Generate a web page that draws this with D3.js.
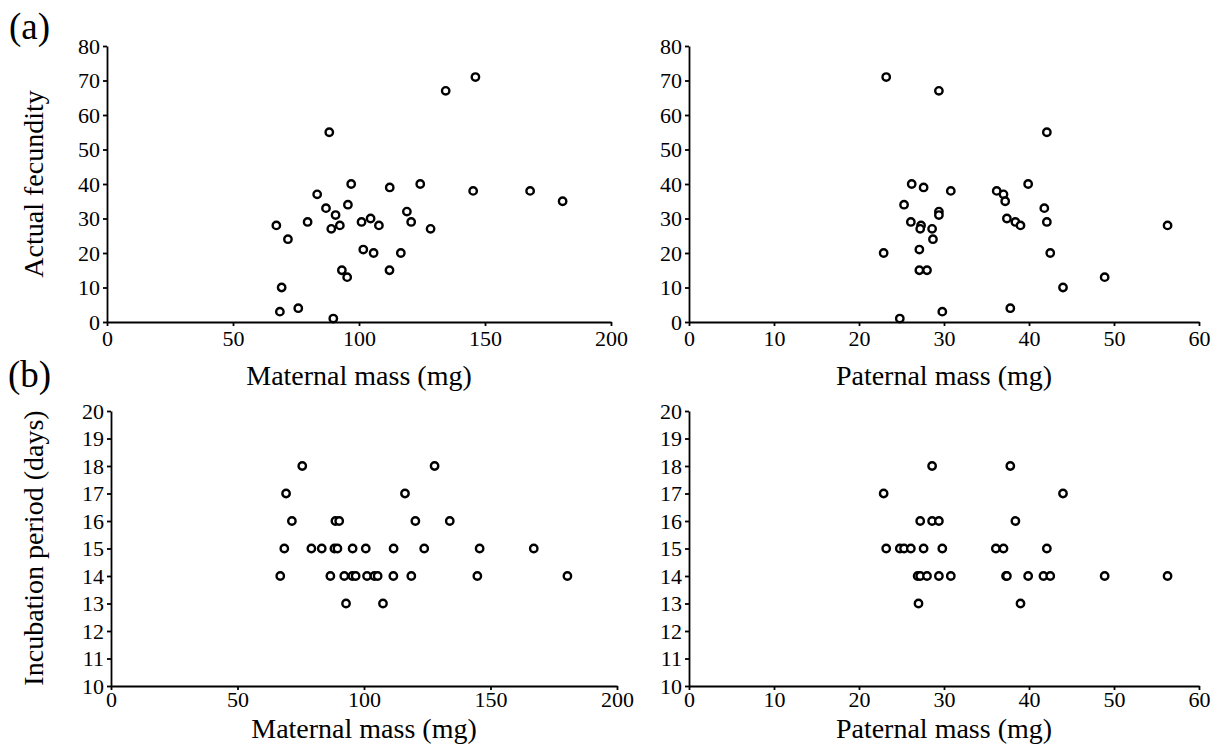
<!DOCTYPE html>
<html>
<head>
<meta charset="utf-8">
<script src="https://cdn.jsdelivr.net/npm/d3@7"></script>
<style>
  body { margin: 0; background: #fff; }
  svg { display: block; font-family: "Liberation Serif", "Times New Roman", serif; }
  .axis path, .axis line { stroke: #000; stroke-width: 1.8; }
  .title { font-size: 28px; fill: #000; }
  .letter { font-size: 37px; fill: #000; }
</style>
</head>
<body>
<main></main>
<script>
// data
// (a) left: maternal mass vs actual fecundity
const maternalMassA = [146.2, 134.4, 88.2, 96.9, 112.2, 124.3, 145.3, 167.9, 180.8, 83.4, 86.9, 95.6, 90.7, 119.0, 67.2, 79.6, 89.0,
  92.4, 101.0, 104.6, 107.9, 120.7, 128.4, 71.8, 101.7, 105.8, 116.6, 93.2, 95.3, 112.1, 69.3, 68.6, 75.9, 89.8];
const fecundityM = [71, 67, 55, 40, 39, 40, 38, 38, 35, 37, 33, 34, 31, 32, 28, 29, 27,
  28, 29, 30, 28, 29, 27, 24, 21, 20, 20, 15, 13, 15, 10, 3, 4, 1];

// (a) right: paternal mass vs actual fecundity
const paternalMassA = [23.2, 29.4, 42.1, 26.2, 27.6, 30.8, 39.9, 36.2, 37.0, 37.2, 25.3, 41.8, 29.4, 29.4, 37.4, 38.4, 39.0,
  42.1, 26.1, 27.3, 27.2, 28.6, 28.7, 56.3, 22.9, 27.1, 42.5, 27.1, 28.0, 48.9, 44.0, 29.8, 37.8, 24.8];
const fecundityP = [71, 67, 55, 40, 39, 38, 40, 38, 37, 35, 34, 33, 32, 31, 30, 29, 28,
  29, 29, 28, 27, 27, 24, 28, 20, 21, 20, 15, 15, 13, 10, 3, 4, 1];

// (b) left: maternal mass vs incubation period
const maternalMassB = [75.6, 127.9, 69.2, 116.2, 71.5, 88.7, 90.2, 120.3, 133.9, 68.5, 79.2, 83.3, 88.3, 89.5, 95.5, 100.7, 111.7,
  123.8, 145.7, 167.1, 66.9, 86.7, 92.2, 95.4, 96.7, 101.2, 104.1, 105.4, 111.6, 118.7, 144.8, 180.4, 92.9, 107.5];
const incubationM = [18, 18, 17, 17, 16, 16, 16, 16, 16, 15, 15, 15, 15, 15, 15, 15, 15,
  15, 15, 15, 14, 14, 14, 14, 14, 14, 14, 14, 14, 14, 14, 14, 13, 13];

// (b) right: paternal mass vs incubation period
const paternalMassB = [28.6, 37.8, 22.9, 44.0, 27.2, 28.6, 29.4, 38.4, 23.2, 24.8, 25.3, 26.1, 27.6, 29.8, 36.1, 37.0, 42.1,
  26.9, 27.2, 28.0, 29.4, 30.8, 37.3, 37.4, 39.9, 41.7, 42.5, 48.9, 56.3, 27.0, 39.0];
const incubationP = [18, 18, 17, 17, 16, 16, 16, 16, 15, 15, 15, 15, 15, 15, 15, 15, 15,
  14, 14, 14, 14, 14, 14, 14, 14, 14, 14, 14, 14, 13, 13];

// tick labels
const maternalTicks = [0, 50, 100, 150, 200];
const paternalTicks = [0, 10, 20, 30, 40, 50, 60];
const fecundityTicks = [0, 10, 20, 30, 40, 50, 60, 70, 80];
const incubationTicks = [10, 11, 12, 13, 14, 15, 16, 17, 18, 19, 20];

const width = 1212;
const height = 751;
const serif = '"Liberation Serif", "Times New Roman", serif';

const svg = d3.select('main')
  .append('svg')
  .attr('width', width)
  .attr('height', height);

function styleAxis(g) {
  g.attr('font-family', serif).attr('font-size', 22);
  g.selectAll('text')
    .style('font-family', serif)
    .style('font-size', '22px')
    .attr('fill', '#000');
}

function drawPanel(xs, ys, xTicks, yTicks, xRange, yRange, xTitle, titleY, xPad) {
  const xScale = d3.scaleLinear()
    .domain([xTicks[0], xTicks[xTicks.length - 1]])
    .range(xRange);
  const yScale = d3.scaleLinear()
    .domain([yTicks[0], yTicks[yTicks.length - 1]])
    .range(yRange);

  svg.append('g')
    .attr('class', 'axis')
    .attr('transform', `translate(0,${yRange[0]})`)
    .call(d3.axisBottom(xScale).tickValues(xTicks).tickSize(4).tickSizeOuter(0).tickPadding(xPad))
    .call(styleAxis);

  svg.append('g')
    .attr('class', 'axis')
    .attr('transform', `translate(${xRange[0]},0)`)
    .call(d3.axisLeft(yScale).tickValues(yTicks).tickSize(4).tickSizeOuter(0).tickPadding(3))
    .call(styleAxis);

  svg.append('g')
    .selectAll('circle')
    .data(xs)
    .enter()
    .append('circle')
    .attr('cx', d => xScale(d))
    .attr('cy', (d, i) => yScale(ys[i]))
    .attr('r', 3.7)
    .attr('fill', '#fff')
    .attr('stroke', '#000')
    .attr('stroke-width', 2.4);

  svg.append('text')
    .attr('class', 'title')
    .attr('x', (xRange[0] + xRange[1]) / 2)
    .attr('y', titleY)
    .attr('text-anchor', 'middle')
    .text(xTitle);
}

drawPanel(maternalMassA, fecundityM, maternalTicks, fecundityTicks, [107, 611], [322, 46], 'Maternal mass (mg)', 385, 4);
drawPanel(paternalMassA, fecundityP, paternalTicks, fecundityTicks, [689, 1199], [322, 46], 'Paternal mass (mg)', 385, 4);
drawPanel(maternalMassB, incubationM, maternalTicks, incubationTicks, [111, 617], [686, 411], 'Maternal mass (mg)', 738, 1);
drawPanel(paternalMassB, incubationP, paternalTicks, incubationTicks, [689, 1199], [686, 411], 'Paternal mass (mg)', 738, 1);

// y axis titles
svg.append('text')
  .attr('class', 'title')
  .attr('transform', 'translate(43,184) rotate(-90)')
  .attr('text-anchor', 'middle')
  .text('Actual fecundity');

svg.append('text')
  .attr('class', 'title')
  .attr('transform', 'translate(43,548) rotate(-90)')
  .attr('text-anchor', 'middle')
  .text('Incubation period (days)');

// panel letters
svg.append('text').attr('class', 'letter').attr('x', 9).attr('y', 39).text('(a)');
svg.append('text').attr('class', 'letter').attr('x', 8).attr('y', 387).text('(b)');
</script>
</body>
</html>
